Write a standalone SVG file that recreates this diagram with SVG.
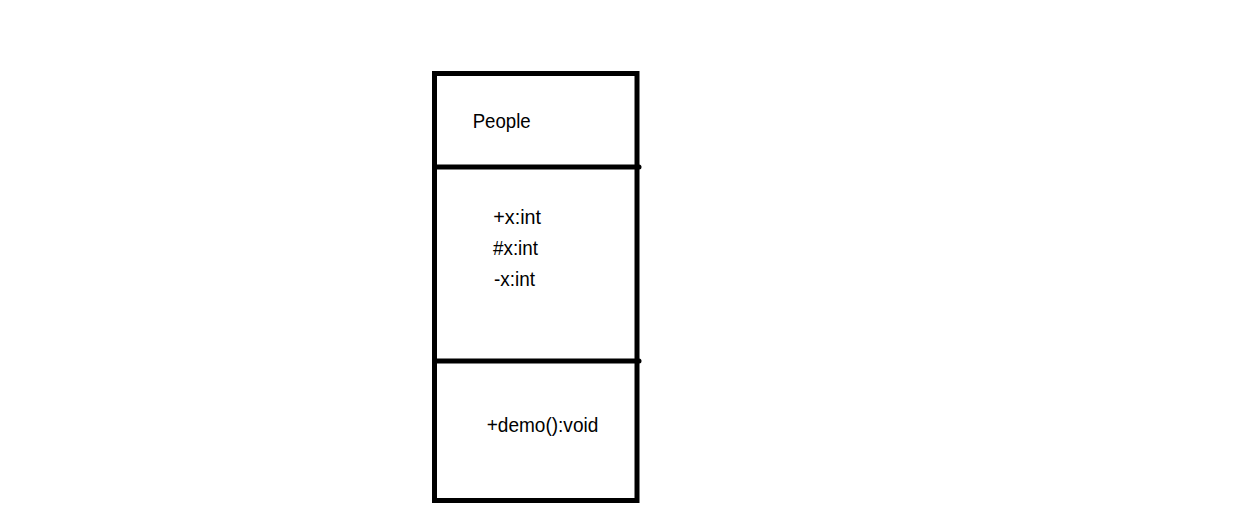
<svg xmlns="http://www.w3.org/2000/svg" width="1239" height="528" viewBox="0 0 1239 528">
<style>
.box{fill:none;stroke:#000;stroke-width:5}
.div{stroke:#000;stroke-width:5;stroke-linecap:round}
.t{font-family:"Liberation Sans",Arial,sans-serif;font-size:20px;fill:#000}
</style>
<rect width="1239" height="528" fill="#fff"/>
<g id="people-class">
<rect class="box" x="434.5" y="73.5" width="202.5" height="427"/>
<line class="div" x1="434.5" y1="167" x2="639" y2="167"/>
<line class="div" x1="434.5" y1="361" x2="639" y2="361"/>
<text class="t" x="472.7" y="127.5" textLength="58" lengthAdjust="spacingAndGlyphs">People</text>
<text class="t" x="493.3" y="224" textLength="47.7" lengthAdjust="spacingAndGlyphs">+x:int</text>
<text class="t" x="493" y="255" textLength="45" lengthAdjust="spacingAndGlyphs">#x:int</text>
<text class="t" x="494" y="286" textLength="41" lengthAdjust="spacingAndGlyphs">-x:int</text>
<text class="t" x="486.7" y="431.7" textLength="111.6" lengthAdjust="spacingAndGlyphs">+demo():void</text>
</g>
<g id="connectors"></g>
</svg>
